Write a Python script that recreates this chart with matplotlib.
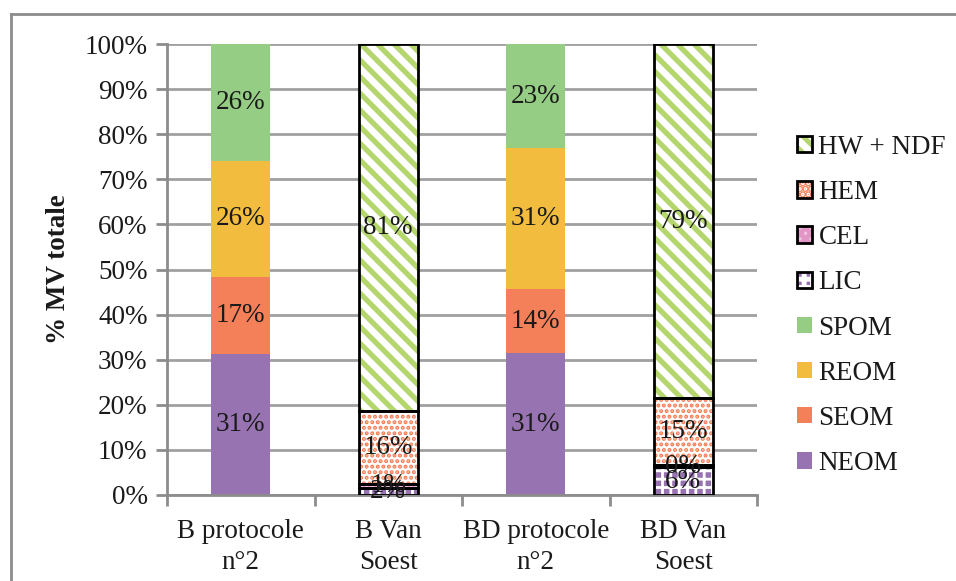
import matplotlib
matplotlib.use("Agg")
import matplotlib.pyplot as plt
import numpy as np
from matplotlib.patches import Patch
from matplotlib.lines import Line2D

plt.rcParams['font.family'] = ['Liberation Serif', 'DejaVu Serif']
plt.rcParams['hatch.linewidth'] = 3.5

categories = ["B protocole\nn°2", "B Van\nSoest", "BD protocole\nn°2", "BD Van\nSoest"]
series_names = ["NEOM", "SEOM", "REOM", "SPOM", "LIC", "CEL", "HEM", "HW + NDF"]
NEOM = [31.2, 0, 31.4, 0]
SEOM = [17.2, 0, 14.3, 0]
REOM = [25.7, 0, 31.2, 0]
SPOM = [25.9, 0, 23.1, 0]
LIC = [0, 1.6, 0, 6.2]
CEL = [0, 0.8, 0, 0.4]
HEM = [0, 16.2, 0, 14.8]
HWNDF = [0, 81.4, 0, 78.6]
y_ticks = [0, 10, 20, 30, 40, 50, 60, 70, 80, 90, 100]

series_values = [NEOM, SEOM, REOM, SPOM, LIC, CEL, HEM, HWNDF]

# style: (facecolor, hatch, hatchcolor, hatch_lw, outlined)
styles = {
    "NEOM": ("#9873b2", None, None, None, False),
    "SEOM": ("#f4805a", None, None, None, False),
    "REOM": ("#f2bd3e", None, None, None, False),
    "SPOM": ("#95cd84", None, None, None, False),
    "LIC": ("#9873b2", "++", "white", 2.0, True),
    "CEL": ("#f1c6e0", "xxx", "#e396c6", 1.0, True),
    "HEM": ("white", "...", "#f47b52", 2.0, True),
    "HW + NDF": ("white", "\\\\", "#b5d66d", 3.8, True),
}

FS = 19.5
fig = plt.figure(figsize=(9.56, 5.81), dpi=100)
ax = fig.add_axes([167/956, 1 - 495/581, (757 - 167)/956, (495 - 44)/581])

x = np.arange(len(categories))
width = 0.4
bottom = np.zeros(len(categories))
handles = {}
for name, vals in zip(series_names, series_values):
    vals = np.array(vals, dtype=float)
    fc, hatch, hc, hlw, outlined = styles[name]
    if hatch is None:
        ax.bar(x, vals, width, bottom=bottom, color=fc, linewidth=0, zorder=2)
        handles[name] = Patch(facecolor=fc, edgecolor='none')
    else:
        bars = ax.bar(x, vals, width, bottom=bottom, facecolor=fc, edgecolor=hc,
                      hatch=hatch, linewidth=0, zorder=2)
        for b in bars:
            if hasattr(b, 'set_hatch_linewidth'):
                b.set_hatch_linewidth(hlw)
        ax.bar(x, np.where(vals > 0, vals, np.nan), width, bottom=bottom, fill=False,
               edgecolor='black', linewidth=2.0, zorder=3)
        hp = Patch(facecolor=fc, edgecolor=hc, hatch=hatch, linewidth=0)
        if hasattr(hp, 'set_hatch_linewidth'):
            hp.set_hatch_linewidth(hlw * 0.6)
        op = Patch(facecolor='none', edgecolor='black', linewidth=2.0)
        handles[name] = (hp, op)
    for xi, v, b0 in zip(x, vals, bottom):
        if v > 0:
            ax.text(xi, b0 + v / 2, f"{int(round(v))}%", ha='center', va='center',
                    fontsize=FS, color='#1a1a1a', zorder=5)
    bottom = bottom + vals

ax.set_xlim(-0.5, 3.5)
ax.set_ylim(0, 100)
ax.set_yticks(y_ticks)
ax.set_yticklabels([f"{t}%" for t in y_ticks], fontsize=FS, color='#1a1a1a')
ax.set_xticks(x)
ax.set_xticklabels(categories, fontsize=FS, color='#1a1a1a', linespacing=1.35)
ax.set_xticks(np.arange(-0.5, 4, 1), minor=True)
ax.tick_params(axis='x', which='major', length=0, pad=17)
ax.tick_params(axis='x', which='minor', length=8, width=2, color='#8c8c8c', direction='out')
ax.tick_params(axis='y', length=8, width=2, color='#8c8c8c', direction='out', pad=6)
ax.yaxis.grid(True, color='#a0a0a0', linewidth=2, zorder=0)
ax.set_axisbelow(True)
for s in ['top', 'right']:
    ax.spines[s].set_visible(False)
for s in ['left', 'bottom']:
    ax.spines[s].set_color('#8c8c8c')
    ax.spines[s].set_linewidth(2)

ax.set_ylabel("% MV totale", fontsize=FS, fontweight='bold', color='#1a1a1a', labelpad=10)

order = ["HW + NDF", "HEM", "CEL", "LIC", "SPOM", "REOM", "SEOM", "NEOM"]
leg = fig.legend([handles[n] for n in order], order, loc='upper left',
                 bbox_to_anchor=(786/956, 1 - 124/581), frameon=False, fontsize=FS,
                 handlelength=0.55, handleheight=0.55, handletextpad=0.25,
                 labelspacing=0.745, borderaxespad=0)
for t in leg.get_texts():
    t.set_color('#1a1a1a')

# chart area border (left and top visible)
fig.add_artist(Line2D([11/956, 11/956], [0, 1 - 14/581], transform=fig.transFigure,
                      color='#8c8c8c', linewidth=2))
fig.add_artist(Line2D([11/956, 1], [1 - 14/581, 1 - 14/581], transform=fig.transFigure,
                      color='#8c8c8c', linewidth=2))

fig.savefig("out.png", dpi=100)
